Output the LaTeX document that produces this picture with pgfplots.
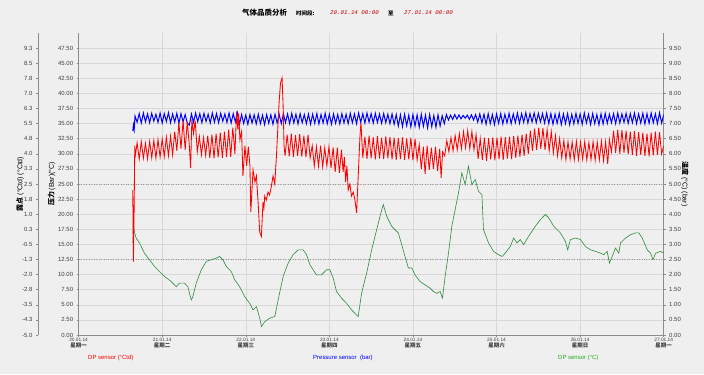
\documentclass[border=0pt]{standalone}
\usepackage{pgfplots}
\pgfplotsset{compat=1.18}
\usepackage{fontspec}
\setmainfont{Liberation Sans}
\newfontfamily\cjk{Noto Sans CJK SC}
\newfontfamily\mono{Liberation Mono}
\definecolor{bg}{HTML}{EFEFEF}
\definecolor{gridc}{HTML}{D8D8D8}
\definecolor{axc}{HTML}{8C8C8C}
\definecolor{dotc}{HTML}{9A9A9A}
\definecolor{dpred}{HTML}{FF0000}
\definecolor{prblue}{HTML}{0000FF}
\definecolor{dpgreen}{HTML}{2E8B40}
\definecolor{lgreen}{HTML}{22AA22}
\pgfplotsset{
  base/.style={scale only axis, width=585.1bp, height=302bp, at={(0bp,0bp)}, anchor=south west,
    xmin=20, xmax=27,
    axis line style={axc, line width=0.6pt, -}, tick style={axc, line width=0.5pt},
    tick align=outside, major tick length=2bp,
    every tick label/.append style={font=\fontsize{6}{7}\selectfont, text=black!75},
    /pgf/number format/assume math mode=true},
}
\begin{document}
\begin{tikzpicture}[x=1bp,y=1bp]
\fill[bg] (-78.6,-39) rectangle (625.4,335);
\useasboundingbox (-78.6,-39) rectangle (625.4,335);

% main axis: right scale (bar / degC), blue and green
\begin{axis}[base, ymin=0, ymax=10,
  axis x line*=bottom, axis y line*=right,
  xtick={20,21,22,23,24,25,26,27},
  xticklabels={{{\fontsize{4.8}{5}\selectfont 20.01.14}\\{\cjk\bfseries 星期一}},
               {{\fontsize{4.8}{5}\selectfont 21.01.14}\\{\cjk\bfseries 星期二}},
               {{\fontsize{4.8}{5}\selectfont 22.01.14}\\{\cjk\bfseries 星期三}},
               {{\fontsize{4.8}{5}\selectfont 23.01.14}\\{\cjk\bfseries 星期四}},
               {{\fontsize{4.8}{5}\selectfont 24.01.14}\\{\cjk\bfseries 星期五}},
               {{\fontsize{4.8}{5}\selectfont 25.01.14}\\{\cjk\bfseries 星期六}},
               {{\fontsize{4.8}{5}\selectfont 26.01.14}\\{\cjk\bfseries 星期日}},
               {{\fontsize{4.8}{5}\selectfont 27.01.14}\\{\cjk\bfseries 星期一}}},
  xticklabel style={align=center, font=\fontsize{5.5}{5.5}\selectfont, inner sep=1bp},
  ytick={0,0.5,1,1.5,2,2.5,3,3.5,4,4.5,5,5.5,6,6.5,7,7.5,8,8.5,9,9.5},
  yticklabel style={/pgf/number format/.cd, fixed, fixed zerofill, precision=2},
  grid=major, major grid style={gridc, line width=0.5pt},
  extra y ticks={2.5,5}, extra y tick labels={},
  extra y tick style={grid=major, major grid style={dotc, dotted, line width=0.6pt}, major tick length=0pt},
]
% DP sensor (degC), green
\addplot[dpgreen, line width=0.6pt] coordinates {
(20.648,3.05) (20.656,3.54) (20.688,3.21) (20.728,3.05) (20.788,2.71) (20.848,2.49) (20.908,2.27) (20.968,2.10)
(21.028,1.94) (21.108,1.77) (21.168,1.60) (21.207,1.72) (21.267,1.72) (21.307,1.60) (21.348,1.16) (21.367,1.27)
(21.408,1.72) (21.468,2.16) (21.528,2.44) (21.588,2.49) (21.648,2.55) (21.687,2.60) (21.727,2.49) (21.767,2.27)
(21.827,2.10) (21.867,1.83) (21.927,1.60) (21.987,1.27) (22.047,1.05) (22.087,0.83) (22.127,0.94) (22.167,0.56)
(22.187,0.28) (22.227,0.44) (22.287,0.56) (22.347,0.61) (22.387,1.16) (22.447,1.94) (22.507,2.38) (22.566,2.66)
(22.626,2.82) (22.686,2.82) (22.727,2.66) (22.766,2.33) (22.846,1.99) (22.906,1.99) (22.966,2.16) (23.006,2.16)
(23.046,1.88) (23.086,1.44) (23.146,1.22) (23.206,1.05) (23.266,0.83) (23.326,0.66) (23.345,0.61) (23.386,1.39)
(23.446,2.05) (23.506,2.82) (23.566,3.49) (23.606,3.93) (23.645,4.32) (23.686,3.93) (23.746,3.60) (23.785,3.49)
(23.825,3.38) (23.866,2.99) (23.905,2.60) (23.945,2.22) (23.986,2.22) (24.025,1.99) (24.085,1.77) (24.145,1.66)
(24.205,1.55) (24.245,1.44) (24.285,1.38) (24.325,1.44) (24.353,1.22) (24.385,1.94) (24.425,2.71) (24.465,3.60)
(24.505,4.15) (24.545,4.71) (24.585,5.37) (24.625,4.98) (24.664,5.59) (24.705,4.98) (24.745,5.15) (24.784,4.76)
(24.825,4.65) (24.844,3.49) (24.904,3.05) (24.964,2.77) (25.024,2.66) (25.065,2.60) (25.104,2.71) (25.164,2.93)
(25.204,3.21) (25.245,3.05) (25.284,3.16) (25.324,2.99) (25.384,3.27) (25.464,3.60) (25.524,3.82) (25.584,3.99)
(25.624,3.88) (25.684,3.60) (25.764,3.38) (25.824,3.10) (25.851,2.82) (25.884,3.16) (25.944,3.21) (26.004,3.16)
(26.064,2.93) (26.124,2.82) (26.184,2.77) (26.243,2.71) (26.283,2.66) (26.323,2.77) (26.351,2.38) (26.384,2.60)
(26.423,2.88) (26.463,2.71) (26.483,3.05) (26.543,3.21) (26.603,3.32) (26.663,3.38) (26.703,3.38) (26.743,3.21)
(26.803,2.82) (26.843,2.71) (26.871,2.49) (26.903,2.71) (26.963,2.77) (27.000,2.71)
};
% Pressure sensor (bar), blue
\addplot[prblue, line width=1.0pt] coordinates {
(20.648,6.75) (20.656,6.95) (20.665,6.80) (20.675,7.25)
(20.700,7.05) (20.725,7.33) (20.750,7.02) (20.775,7.35) (20.800,7.06) (20.825,7.32) (20.850,7.03) (20.875,7.34)
(20.900,7.08) (20.925,7.31) (20.950,7.04) (20.975,7.35) (21.000,7.02) (21.025,7.33) (21.050,7.07) (21.075,7.36)
(21.100,7.03) (21.125,7.32) (21.150,7.05) (21.175,7.34) (21.200,7.01) (21.225,7.33) (21.250,7.06) (21.275,7.30)
(21.300,7.02) (21.325,6.95) (21.350,7.32) (21.375,7.04) (21.400,7.35) (21.425,7.06) (21.450,7.33) (21.475,7.03)
(21.500,7.34) (21.525,7.07) (21.550,7.31) (21.575,7.02) (21.600,7.35) (21.625,7.05) (21.650,7.33) (21.675,7.03)
(21.700,7.34) (21.725,7.08) (21.750,7.32) (21.775,7.04) (21.800,7.35) (21.825,7.02) (21.850,7.33) (21.875,7.06)
(21.900,7.36) (21.925,6.98) (21.950,7.30) (21.975,7.00) (22.000,7.28) (22.025,6.98) (22.050,7.30) (22.075,7.02)
(22.100,7.29) (22.125,6.99) (22.150,7.31) (22.175,7.00) (22.200,7.28) (22.225,6.97) (22.250,7.30) (22.275,7.01)
(22.300,7.29) (22.325,6.98) (22.350,7.31) (22.375,7.02) (22.400,7.30) (22.425,7.00) (22.450,7.33) (22.475,7.03)
(22.500,7.32) (22.525,7.00) (22.550,7.34) (22.575,7.02) (22.600,7.31) (22.625,6.99) (22.650,7.33) (22.675,7.03)
(22.700,7.30) (22.725,7.00) (22.750,7.32) (22.775,6.98) (22.800,7.31) (22.825,7.01) (22.850,7.33) (22.875,6.99)
(22.900,7.30) (22.925,7.02) (22.950,7.34) (22.975,7.00) (23.000,7.31) (23.025,6.98) (23.050,7.32) (23.075,7.01)
(23.100,7.30) (23.125,6.99) (23.150,7.33) (23.175,7.02) (23.200,7.31) (23.225,7.00) (23.250,7.34) (23.275,7.03)
(23.300,7.32) (23.325,7.00) (23.350,7.35) (23.375,7.04) (23.400,7.33) (23.425,7.02) (23.450,7.35) (23.475,7.05)
(23.500,7.33) (23.525,7.02) (23.550,7.34) (23.575,7.04) (23.600,7.32) (23.625,7.01) (23.650,7.33) (23.675,7.03)
(23.700,7.31) (23.725,7.00) (23.750,7.32) (23.775,6.98) (23.800,7.30) (23.825,6.92) (23.850,7.29) (23.875,6.90)
(23.900,7.31) (23.925,6.93) (23.950,7.28) (23.975,6.89) (24.000,7.30) (24.025,6.92) (24.050,7.29) (24.075,6.88)
(24.100,7.31) (24.125,6.91) (24.150,7.28) (24.175,6.86) (24.200,7.30) (24.225,6.90) (24.250,7.27) (24.275,6.88)
(24.300,7.29) (24.325,6.92) (24.350,7.26) (24.375,7.00) (24.400,7.30) (24.425,7.12) (24.450,7.28) (24.475,7.14)
(24.500,7.30) (24.525,7.15) (24.550,7.29) (24.575,7.16) (24.600,7.27) (24.625,7.18) (24.650,7.28) (24.675,7.14)
(24.700,7.29) (24.725,7.12) (24.750,7.30) (24.775,7.05) (24.800,7.32) (24.825,7.02) (24.850,7.31) (24.875,6.98)
(24.900,7.33) (24.925,7.00) (24.950,7.30) (24.975,6.97) (25.000,7.32) (25.025,7.01) (25.050,7.33) (25.075,6.99)
(25.100,7.31) (25.125,7.02) (25.150,7.34) (25.175,7.00) (25.200,7.32) (25.225,7.03) (25.250,7.35) (25.275,7.01)
(25.300,7.33) (25.325,7.04) (25.350,7.36) (25.375,7.02) (25.400,7.33) (25.425,7.05) (25.450,7.35) (25.475,7.03)
(25.500,7.34) (25.525,7.06) (25.550,7.33) (25.575,7.02) (25.600,7.35) (25.625,7.00) (25.650,7.33) (25.675,6.98)
(25.700,7.31) (25.725,7.01) (25.750,7.34) (25.775,6.97) (25.800,7.32) (25.825,7.00) (25.850,7.33) (25.875,6.96)
(25.900,7.31) (25.925,6.99) (25.950,7.34) (25.975,7.01) (26.000,7.32) (26.025,6.98) (26.050,7.35) (26.075,7.02)
(26.100,7.31) (26.125,6.97) (26.150,7.33) (26.175,7.00) (26.200,7.30) (26.225,6.96) (26.250,7.32) (26.275,6.99)
(26.300,7.34) (26.325,7.01) (26.350,7.31) (26.375,7.03) (26.400,7.33) (26.425,7.00) (26.450,7.35) (26.475,7.02)
(26.500,7.32) (26.525,7.04) (26.550,7.34) (26.575,7.01) (26.600,7.33) (26.625,7.03) (26.650,7.35) (26.675,7.00)
(26.700,7.32) (26.725,7.02) (26.750,7.34) (26.775,6.99) (26.800,7.33) (26.825,7.01) (26.850,7.35) (26.875,7.03)
(26.900,7.32) (26.925,7.00) (26.950,7.36) (26.975,7.02) (27.000,7.30)
};
\end{axis}

% dew point data axis (degCtd), red
\begin{axis}[base, ymin=-5, ymax=10, hide axis]
\addplot[dpred, line width=0.85pt] coordinates {
(20.648,2.2) (20.656,-1.35) (20.665,1.5) (20.672,4.4)
(20.675,3.80) (20.700,4.55) (20.725,3.74) (20.750,4.60) (20.775,3.78) (20.800,4.52) (20.825,3.75) (20.850,4.62)
(20.875,3.80) (20.900,4.66) (20.925,3.78) (20.950,4.70) (20.975,3.84) (21.000,4.74) (21.025,3.86) (21.050,4.82)
(21.075,3.90) (21.100,4.88) (21.125,3.95) (21.150,5.10)
(21.175,4.15) (21.200,5.55) (21.225,4.25) (21.250,5.65) (21.275,4.20) (21.300,5.60) (21.325,4.40) (21.340,3.30)
(21.355,5.70) (21.375,5.00) (21.395,5.65)
(21.420,4.10) (21.445,4.85) (21.470,3.95) (21.495,4.80) (21.520,3.92) (21.545,4.90)
(21.570,3.80) (21.595,4.95) (21.620,3.78) (21.645,5.00) (21.670,3.82) (21.695,5.05) (21.720,3.80) (21.745,5.10)
(21.770,3.84) (21.795,5.20) (21.820,3.85) (21.845,5.30) (21.870,4.00) (21.890,6.10) (21.905,5.20) (21.915,6.00)
(21.930,4.70) (21.950,5.10) (21.966,2.90) (21.990,4.40) (22.010,3.40) (22.030,4.35) (22.050,3.40) (22.060,1.10)
(22.087,3.20) (22.110,2.60) (22.127,2.90) (22.146,1.70) (22.167,0.10) (22.187,-0.10) (22.206,1.60) (22.217,1.30)
(22.227,1.90) (22.245,1.70) (22.266,2.10) (22.285,1.95) (22.307,2.40) (22.326,2.90) (22.347,2.50) (22.367,3.90)
(22.386,5.50) (22.398,6.50) (22.415,7.50) (22.434,7.77) (22.446,6.50) (22.458,4.40) (22.470,3.90)
(22.495,4.95) (22.520,3.88) (22.545,5.00) (22.570,3.85) (22.595,4.92) (22.620,3.90) (22.645,4.98) (22.670,3.86)
(22.695,4.90) (22.720,3.84) (22.745,4.95) (22.770,3.80)
(22.795,4.40) (22.820,3.40) (22.845,4.35) (22.870,3.38) (22.895,4.40) (22.920,3.35) (22.945,4.30) (22.970,3.40)
(22.995,4.35) (23.020,3.30) (23.045,4.32) (23.070,3.10) (23.095,4.30) (23.120,3.05) (23.145,4.20) (23.165,3.10)
(23.180,3.85) (23.195,2.60) (23.210,3.40) (23.225,2.20) (23.245,2.50) (23.265,1.90) (23.285,2.10) (23.306,1.70)
(23.326,1.07) (23.345,2.88) (23.366,4.87) (23.378,5.55)
(23.400,3.80) (23.425,4.85) (23.450,3.75) (23.475,4.90) (23.500,3.78) (23.525,4.82) (23.550,3.72) (23.575,4.88)
(23.600,3.76) (23.625,4.80) (23.650,3.74) (23.675,4.86) (23.700,3.78) (23.725,4.84) (23.750,3.72) (23.775,4.80)
(23.800,3.70) (23.825,4.78) (23.850,3.74) (23.875,4.82) (23.900,3.70) (23.925,4.76) (23.950,3.72) (23.975,4.80)
(24.000,3.68) (24.025,4.74) (24.050,3.70)
(24.075,4.45) (24.100,3.25) (24.125,4.35) (24.145,3.00) (24.170,4.40) (24.195,3.20) (24.220,4.30) (24.245,3.25)
(24.270,4.35) (24.295,3.15) (24.320,4.25) (24.337,2.81) (24.355,4.10)
(24.380,3.90) (24.405,4.65) (24.430,4.10) (24.455,4.80) (24.480,4.15) (24.505,4.90) (24.530,4.20) (24.555,5.00)
(24.580,4.25) (24.605,5.10) (24.630,4.30) (24.655,5.15) (24.680,4.25) (24.705,5.10) (24.730,4.20) (24.755,4.95)
(24.780,3.75) (24.805,4.75) (24.830,3.70) (24.855,4.80) (24.880,3.65) (24.905,4.78) (24.930,3.72) (24.955,4.82)
(24.980,3.68) (25.005,4.80) (25.030,3.74) (25.055,4.85) (25.080,3.70) (25.105,4.82) (25.130,3.76) (25.155,4.85)
(25.180,3.74) (25.205,4.88) (25.230,3.80) (25.255,4.90) (25.280,3.85) (25.305,4.95) (25.330,3.90) (25.355,5.00)
(25.380,4.00)
(25.405,5.15) (25.430,4.15) (25.455,5.25) (25.480,4.20) (25.505,5.30) (25.530,4.25) (25.555,5.28) (25.580,4.20)
(25.605,5.20) (25.630,4.15) (25.655,5.10) (25.680,4.05)
(25.705,4.90) (25.730,3.90) (25.755,4.75) (25.780,3.80) (25.805,4.65) (25.830,3.72) (25.855,4.60) (25.880,3.75)
(25.905,4.58) (25.930,3.70) (25.955,4.62) (25.980,3.72) (26.005,4.58) (26.030,3.74) (26.055,4.60) (26.080,3.70)
(26.105,4.56) (26.130,3.72) (26.155,4.60) (26.180,3.68) (26.205,4.58) (26.230,3.70) (26.255,4.62) (26.280,3.66)
(26.305,4.60) (26.330,3.50) (26.350,4.70)
(26.375,4.10) (26.400,5.15) (26.425,4.05) (26.450,5.20) (26.475,4.00) (26.500,5.18) (26.525,4.05) (26.550,5.15)
(26.575,3.98) (26.600,5.10) (26.625,3.95) (26.650,5.12) (26.675,3.90) (26.700,5.08) (26.725,3.95) (26.750,5.05)
(26.775,3.90) (26.800,5.00) (26.825,3.88) (26.850,5.05) (26.875,3.92) (26.900,5.10) (26.925,3.95) (26.950,5.08)
(26.975,4.00) (27.000,4.40)
};
\end{axis}

% pressure scale (left, inner)
\begin{axis}[base, ymin=0, ymax=50, axis x line=none, axis y line*=left,
  ytick={0,2.5,5,7.5,10,12.5,15,17.5,20,22.5,25,27.5,30,32.5,35,37.5,40,42.5,45,47.5},
  yticklabel style={/pgf/number format/.cd, fixed, fixed zerofill, precision=2}]
\end{axis}

% dew point scale (left, outer)
\begin{axis}[scale only axis, width=1bp, height=302bp, at={(-40.6bp,0bp)}, anchor=south west,
  xmin=0, xmax=1, ymin=-5, ymax=10, axis x line=none, axis y line*=left,
  axis line style={axc, line width=0.6pt, -}, tick style={axc, line width=0.5pt},
  tick align=outside, major tick length=2bp,
  every tick label/.append style={font=\fontsize{6}{7}\selectfont, text=black!75},
  ytick={-5,-4.25,-3.5,-2.75,-2,-1.25,-0.5,0.25,1,1.75,2.5,3.25,4,4.75,5.5,6.25,7,7.75,8.5,9.25},
  yticklabels={-5.0,-4.3,-3.5,-2.8,-2.0,-1.3,-0.5,0.3,1.0,1.8,2.5,3.3,4.0,4.8,5.5,6.3,7.0,7.8,8.5,9.3}]
\end{axis}

% axis titles
\node[rotate=90, font=\fontsize{7}{8}\selectfont] at (-58.4,151) {{\cjk\bfseries 露点} (°Ctd) (°Ctd)};
\node[rotate=90, font=\fontsize{7}{8}\selectfont] at (-27.0,151) {{\cjk\bfseries 压力} (Bar)(°C)};
\node[rotate=-90, font=\fontsize{7}{8}\selectfont] at (606.4,151) {{\cjk\bfseries 温度} (°C) (bar)};

% title
\node[anchor=west, inner sep=0pt, font=\cjk\bfseries\fontsize{7.5}{8}\selectfont] at (163.4,322) {气体品质分析};
\node[anchor=west, inner sep=0pt, font=\cjk\bfseries\fontsize{5.5}{6}\selectfont] at (217.4,322) {时间段:};
\node[anchor=west, inner sep=0pt, text=red!75!black, font=\mono\itshape\fontsize{5.8}{6}\selectfont] at (251.4,322) {20.01.14 00:00};
\node[anchor=west, inner sep=0pt, font=\cjk\bfseries\fontsize{5.5}{6}\selectfont] at (309.4,322) {至};
\node[anchor=west, inner sep=0pt, text=red!75!black, font=\mono\itshape\fontsize{5.8}{6}\selectfont] at (325.4,322) {27.01.14 00:00};

% legend
\node[anchor=west, inner sep=0pt, text=dpred, font=\fontsize{6}{7}\selectfont] at (9.4,-23) {DP sensor (°Ctd)};
\node[anchor=west, inner sep=0pt, text=prblue, font=\fontsize{6}{7}\selectfont] at (234.4,-23) {Pressure sensor\ \ (bar)};
\node[anchor=west, inner sep=0pt, text=lgreen, font=\fontsize{6}{7}\selectfont] at (479.4,-23) {DP sensor (°C)};
\end{tikzpicture}
\end{document}
